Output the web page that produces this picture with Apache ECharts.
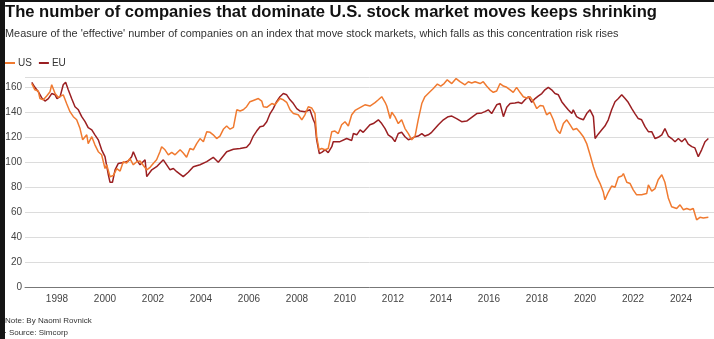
<!DOCTYPE html>
<html>
<head>
<meta charset="utf-8">
<script src="https://cdn.jsdelivr.net/npm/echarts@6/dist/echarts.min.js"></script>
<style>
  html, body { margin: 0; padding: 0; background: #141414; }
  #chart { position: absolute; left: 5px; top: 2px; width: 709px; height: 337px; background: #fff; }
</style>
</head>
<body>
<div id="chart"></div>
<script>
// Effective number of companies moving the index, by decimal year
const usDates = [1996.95,1997.08,1997.22,1997.29,1997.43,1997.57,1997.71,1997.78,1997.92,1998.05,1998.26,1998.40,1998.54,1998.68,1998.82,1998.96,1999.07,1999.24,1999.30,1999.45,1999.58,1999.72,1999.86,2000.00,2000.07,2000.21,2000.35,2000.49,2000.63,2000.76,2000.90,2001.04,2001.18,2001.32,2001.46,2001.60,2001.74,2001.88,2002.01,2002.15,2002.29,2002.36,2002.50,2002.64,2002.78,2002.92,2003.13,2003.26,2003.40,2003.54,2003.68,2003.82,2003.96,2004.10,2004.24,2004.38,2004.51,2004.65,2004.79,2004.93,2005.07,2005.21,2005.35,2005.49,2005.63,2005.76,2005.90,2006.04,2006.18,2006.39,2006.53,2006.60,2006.74,2006.95,2007.08,2007.29,2007.43,2007.57,2007.71,2007.85,2008.05,2008.20,2008.33,2008.47,2008.61,2008.75,2008.82,2008.92,2009.03,2009.17,2009.30,2009.45,2009.58,2009.72,2009.86,2010.00,2010.14,2010.28,2010.42,2010.55,2010.63,2010.83,2011.04,2011.25,2011.39,2011.53,2011.67,2011.74,2011.88,2011.95,2012.08,2012.22,2012.36,2012.50,2012.64,2012.78,2012.92,2013.05,2013.20,2013.33,2013.54,2013.68,2013.85,2013.99,2014.13,2014.26,2014.45,2014.63,2014.79,2015.00,2015.14,2015.28,2015.42,2015.63,2015.76,2015.90,2016.04,2016.18,2016.32,2016.46,2016.60,2016.74,2016.88,2017.01,2017.15,2017.29,2017.43,2017.57,2017.71,2017.85,2017.99,2018.13,2018.26,2018.40,2018.54,2018.68,2018.82,2018.96,2019.10,2019.24,2019.38,2019.51,2019.65,2019.79,2019.93,2020.07,2020.21,2020.35,2020.49,2020.63,2020.76,2020.83,2020.97,2021.11,2021.25,2021.39,2021.53,2021.60,2021.74,2021.88,2022.01,2022.15,2022.36,2022.57,2022.64,2022.78,2022.92,2023.05,2023.20,2023.33,2023.47,2023.61,2023.82,2023.96,2024.10,2024.24,2024.38,2024.51,2024.65,2024.79,2024.93,2025.14];
const usValues = [163,158,157,151,150,153,156.5,162,155,152,154,147,140.5,136.5,134,127,118,122,115,120.5,114,108.5,106,95,98,88.5,89.5,95,93,100.5,99.5,103,98,100.5,101,97.5,94,96,99,102,108.5,112.5,110,106,108,106,110,107.5,104,111,110,115,119,116.5,124.5,124,122,119,121,126.4,129,126.5,128,142,141,142,144.5,148.5,149.5,151,149,144.5,144,147,146,151,150,148,142,139,138,134,138,144.5,143.5,139,120.5,110,111,110,111,124.5,125,123,130,132.5,129,138,141.5,143,144.5,146,145,147.7,150,152.5,148,145,135,140,136.5,131,134,127,123,118,121,134,147,152.5,156.5,159,162.6,161,163,166,163,167,164.5,162,164.5,163.5,164.5,163,164.5,161,158,156,157,163,161,160,158,156,160,156,152.5,151.5,152.5,148.5,143,145.5,145,138,140,134,126,123,131,134,130,126,127,124,120.5,115,106,96.5,88.5,83,76.5,70,76,81,80,88,89,91,84,83,78,74,74,75,82,77,79,86,90,84,71.5,64.5,63,66,62,63,62,63,54,56,55.5,56];

const euDates = [1996.95,1997.08,1997.22,1997.36,1997.50,1997.64,1997.78,1997.92,1998.00,1998.13,1998.26,1998.36,1998.47,1998.61,1998.75,1998.89,1999.03,1999.17,1999.30,1999.45,1999.58,1999.72,1999.86,2000.00,2000.14,2000.21,2000.31,2000.42,2000.55,2000.63,2000.83,2000.97,2001.11,2001.18,2001.32,2001.46,2001.67,2001.74,2001.95,2002.15,2002.43,2002.57,2002.71,2002.85,2002.99,2003.26,2003.47,2003.68,2003.96,2004.24,2004.51,2004.72,2005.07,2005.35,2005.63,2005.90,2006.04,2006.18,2006.32,2006.46,2006.60,2006.74,2006.88,2007.01,2007.15,2007.29,2007.43,2007.57,2007.71,2007.85,2007.99,2008.13,2008.33,2008.54,2008.68,2008.75,2008.82,2008.93,2009.03,2009.17,2009.30,2009.45,2009.51,2009.79,2010.07,2010.28,2010.35,2010.49,2010.63,2010.76,2010.90,2011.04,2011.18,2011.39,2011.53,2011.67,2011.80,2011.95,2012.08,2012.22,2012.36,2012.50,2012.64,2012.78,2012.92,2013.05,2013.20,2013.33,2013.47,2013.61,2013.75,2013.89,2014.10,2014.30,2014.45,2014.65,2014.86,2015.07,2015.28,2015.49,2015.70,2015.83,2015.97,2016.11,2016.32,2016.46,2016.60,2016.74,2016.88,2017.08,2017.22,2017.36,2017.50,2017.64,2017.78,2017.92,2018.05,2018.20,2018.33,2018.47,2018.61,2018.75,2018.89,2019.03,2019.17,2019.30,2019.45,2019.51,2019.65,2019.79,2019.93,2020.07,2020.21,2020.35,2020.42,2020.55,2020.70,2020.83,2020.97,2021.11,2021.25,2021.39,2021.53,2021.67,2021.80,2021.95,2022.08,2022.22,2022.36,2022.50,2022.64,2022.78,2022.92,2023.05,2023.20,2023.33,2023.47,2023.61,2023.75,2023.89,2024.03,2024.17,2024.30,2024.45,2024.58,2024.72,2024.86,2025.00,2025.14];
const euValues = [164,160,156.5,151.7,149,151,155,154,151,152.5,162,164,158,151,144.5,142,136.5,132.5,127.7,126,122,118,110,104.5,90,84,84,94,99,98,100,101,104.5,108.5,102,98,102,88.5,94,96.5,102,98,94,95,92.5,88.5,92,96.5,98,100.5,104,100,108.5,110.4,111,112,115,121,125,128.5,129,132.5,139,143,148.5,152.5,155,154,150,147,143,141,140.5,142,134,131,118,107,108,110,107.7,112.5,116.5,116.5,119,117.5,123,122,126,124,127,130,131,134,131,127,122,120,116.5,123,124,120.5,118,119,120.5,121,123,121,122,124,127,130,134,136.5,137,135,132.5,133,136,139,139.5,140.5,142,139,146,147,136.5,144,147,147.5,148,147,150,152.5,148,151,153,155,158,160,158,155,154,148.5,145,142,139,142,136.5,135,134,139,142,136.5,119,122.5,126,129,134,142,148.5,151,154,151,148,143,139,135,134,128.5,124.5,124.5,119,120,122,127,121,119,116.5,119,116.5,119,114.5,112.5,111.5,104.5,110,116.5,119];

const yearTicks = [1998,2000,2002,2004,2006,2008,2010,2012,2014,2016,2018,2020,2022,2024];
const seriesNames = ['US', 'EU'];
const seriesColors = ['#f07a30', '#9a1f22'];

const zip = (xs, ys) => xs.map((x, i) => [x, ys[i]]);

const chart = echarts.init(document.getElementById('chart'));
const font = 'Liberation Sans, Arial, Helvetica, sans-serif';

chart.setOption({
  animation: false,
  backgroundColor: '#fff',
  textStyle: { fontFamily: font },
  title: [
    {
      text: 'The number of companies that dominate U.S. stock market moves keeps shrinking',
      left: 0, top: 2, padding: 0,
      textStyle: { fontFamily: font, fontSize: 16.6, fontWeight: 'bold', color: '#111' }
    },
    {
      text: "Measure of the 'effective' number of companies on an index that move stock markets, which falls as this concentration risk rises",
      left: 0, top: 26, padding: 0,
      textStyle: { fontFamily: font, fontSize: 10.9, fontWeight: 'normal', color: '#333' }
    },
    {
      text: 'Note: By Naomi Rovnick',
      left: 0, top: 315, padding: 0,
      textStyle: { fontFamily: font, fontSize: 8, fontWeight: 'normal', color: '#333' }
    },
    {
      text: '\u00b7 Source: Simcorp',
      left: -1, top: 327, padding: 0,
      textStyle: { fontFamily: font, fontSize: 8, fontWeight: 'normal', color: '#333' }
    }
  ],
  legend: {
    left: 0, top: 56, padding: 0,
    itemWidth: 10, itemHeight: 2, itemGap: 7,
    icon: 'rect',
    textStyle: { fontFamily: font, fontSize: 10, color: '#333', padding: [0, 0, 0, -2] },
    data: seriesNames
  },
  grid: { left: 20, right: 0, top: 75.3, bottom: 51.7, containLabel: false, outerBoundsMode: 'none' },
  xAxis: {
    type: 'value',
    min: 1996.667, max: 2025.375,
    splitLine: { show: false },
    axisLine: { show: true, lineStyle: { color: '#777', width: 1 } },
    axisTick: { show: false },
    axisLabel: {
      customValues: yearTicks,
      formatter: v => String(v),
      color: '#444', fontSize: 10, fontFamily: font, margin: 7
    }
  },
  yAxis: {
    type: 'value',
    min: 0, max: 168, interval: 20,
    axisLine: { show: false },
    axisTick: { show: false },
    splitLine: { lineStyle: { color: '#dcdcdc', width: 1 } },
    axisLabel: { color: '#444', fontSize: 10, fontFamily: font, margin: 3, showMaxLabel: false }
  },
  series: [
    {
      name: seriesNames[0], type: 'line', data: zip(usDates, usValues),
      showSymbol: false, symbol: 'none',
      lineStyle: { color: seriesColors[0], width: 1.5 },
      itemStyle: { color: seriesColors[0] }, z: 3
    },
    {
      name: seriesNames[1], type: 'line', data: zip(euDates, euValues),
      showSymbol: false, symbol: 'none',
      lineStyle: { color: seriesColors[1], width: 1.5 },
      itemStyle: { color: seriesColors[1] }, z: 2
    }
  ]
});
</script>
</body>
</html>
